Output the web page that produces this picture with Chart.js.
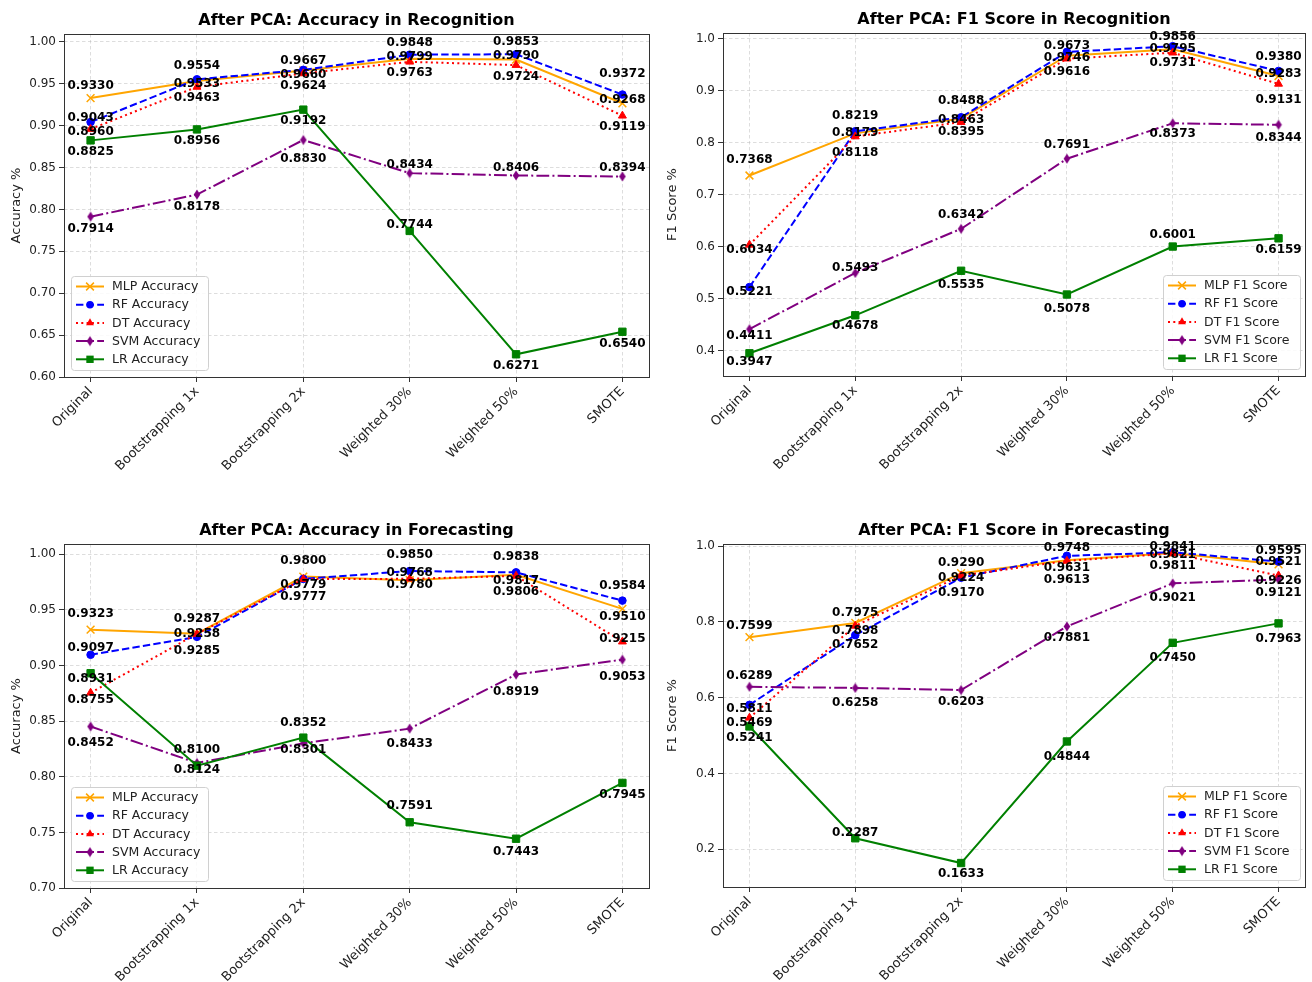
<!DOCTYPE html>
<html>
<head>
<meta charset="utf-8">
<script src="https://cdn.jsdelivr.net/npm/chart.js@4.4.0/dist/chart.umd.min.js"></script>
<style>
  html, body { margin: 0; padding: 0; background: #fff; }
  #wrap { position: relative; width: 1312px; height: 982px; }
  canvas { position: absolute; }
</style>
</head>
<body>
<div id="wrap">
  <canvas id="recAcc" width="656" height="510" style="left:0;top:0"></canvas>
  <canvas id="recF1" width="656" height="510" style="left:656px;top:0"></canvas>
  <canvas id="fcAcc" width="656" height="472" style="left:0;top:510px"></canvas>
  <canvas id="fcF1" width="656" height="472" style="left:656px;top:510px"></canvas>
</div>
<script>
// --- DATA ---
const categories = ["Original", "Bootstrapping 1x", "Bootstrapping 2x", "Weighted 30%", "Weighted 50%", "SMOTE"];
const models = ["MLP", "RF", "DT", "SVM", "LR"];

// Recognition - accuracy
const recAccMLP = [0.9330, 0.9533, 0.9660, 0.9799, 0.9790, 0.9268];
const recAccRF  = [0.9043, 0.9554, 0.9667, 0.9848, 0.9853, 0.9372];
const recAccDT  = [0.8960, 0.9463, 0.9624, 0.9763, 0.9724, 0.9119];
const recAccSVM = [0.7914, 0.8178, 0.8830, 0.8434, 0.8406, 0.8394];
const recAccLR  = [0.8825, 0.8956, 0.9192, 0.7744, 0.6271, 0.6540];

// Recognition - F1
const recF1MLP = [0.7368, 0.8179, 0.8463, 0.9673, 0.9795, 0.9283];
const recF1RF  = [0.5221, 0.8219, 0.8488, 0.9746, 0.9856, 0.9380];
const recF1DT  = [0.6034, 0.8118, 0.8395, 0.9616, 0.9731, 0.9131];
const recF1SVM = [0.4411, 0.5493, 0.6342, 0.7691, 0.8373, 0.8344];
const recF1LR  = [0.3947, 0.4678, 0.5535, 0.5078, 0.6001, 0.6159];

// Forecasting - accuracy
const fcAccMLP = [0.9323, 0.9287, 0.9800, 0.9768, 0.9817, 0.9510];
const fcAccRF  = [0.9097, 0.9258, 0.9779, 0.9850, 0.9838, 0.9584];
const fcAccDT  = [0.8755, 0.9285, 0.9777, 0.9780, 0.9806, 0.9215];
const fcAccSVM = [0.8452, 0.8124, 0.8301, 0.8433, 0.8919, 0.9053];
const fcAccLR  = [0.8931, 0.8100, 0.8352, 0.7591, 0.7443, 0.7945];

// Forecasting - F1
const fcF1MLP = [0.7599, 0.7975, 0.9290, 0.9631, 0.9821, 0.9521];
const fcF1RF  = [0.5811, 0.7652, 0.9170, 0.9748, 0.9841, 0.9595];
const fcF1DT  = [0.5469, 0.7898, 0.9224, 0.9613, 0.9811, 0.9226];
const fcF1SVM = [0.6289, 0.6258, 0.6203, 0.7881, 0.9021, 0.9121];
const fcF1LR  = [0.5241, 0.2287, 0.1633, 0.4844, 0.7450, 0.7963];

// y tick labels
const accTicksRec = [0.60, 0.65, 0.70, 0.75, 0.80, 0.85, 0.90, 0.95, 1.00];
const f1TicksRec  = [0.4, 0.5, 0.6, 0.7, 0.8, 0.9, 1.0];
const accTicksFc  = [0.70, 0.75, 0.80, 0.85, 0.90, 0.95, 1.00];
const f1TicksFc   = [0.2, 0.4, 0.6, 0.8, 1.0];

// value label vertical nudges (px, + = below the point), one row per model
const recAccLabelDy = [[-12, 3, 4, -2, -4, -3], [-4, -13, -9, -12, -12, -21], [3, 11, 12, 11, 12, 11], [12, 12, 19, -8, -8, -9], [11, 11, 11, -6, 12, 12]];
const recF1LabelDy  = [[-16, 0, 1, -10, 0, -2], [5, -15, -16, 6, -9, -14], [5, 16, 10, 13, 10, 16], [7, -5, -14, -14, 11, 13], [9, 11, 14, 14, -12, 12]];
const fcAccLabelDy  = [[-16, -15, -16, -7, 6, 8], [-7, -3, 6, -16, -15, -15], [7, 17, 18, 6, 16, -3], [16, 7, 7, 15, 17, 17], [6, -16, -15, -16, 13, 12]];
const fcF1LabelDy   = [[-11, -10, -10, 8, 2, -3], [4, 10, 15, -8, -5, -11], [5, 5, 2, 19, 12, 5], [-11, 15, 12, 11, 15, 13], [11, -5, 11, 15, 15, 15]];

// --- STYLE ---
Chart.defaults.font.family = "'DejaVu Sans', sans-serif";
Chart.defaults.color = "#222";

function thinDiamond(color) {
  const c = document.createElement("canvas");
  c.width = 8; c.height = 11;
  const g = c.getContext("2d");
  g.fillStyle = color;
  g.beginPath();
  g.moveTo(4, 0.5); g.lineTo(7.3, 5.5); g.lineTo(4, 10.5); g.lineTo(0.7, 5.5);
  g.closePath(); g.fill();
  return c;
}

const seriesStyle = {
  MLP: { color: "#FFA500", dash: [], marker: "crossRot", radius: 5.5 },
  RF:  { color: "#0000FF", dash: [7.4, 3.2], marker: "circle", radius: 3.8 },
  DT:  { color: "#FF0000", dash: [2, 3.3], marker: "triangle", radius: 4.6 },
  SVM: { color: "#800080", dash: [12.8, 3.2, 2, 3.2], marker: thinDiamond("#800080"), radius: 5 },
  LR:  { color: "#008000", dash: [], marker: "rect", radius: 5.2 }
};

const gridColor = "rgba(176,176,176,0.55)";

function drawMarker(ctx, st, x, y) {
  const m = st.marker, r = st.radius;
  ctx.save();
  ctx.setLineDash([]);
  ctx.fillStyle = st.color; ctx.strokeStyle = st.color; ctx.lineWidth = 1.5;
  if (m instanceof HTMLCanvasElement) {
    ctx.drawImage(m, x - m.width / 2, y - m.height / 2);
  } else if (m === "circle") {
    ctx.beginPath(); ctx.arc(x, y, r, 0, Math.PI * 2); ctx.fill();
  } else if (m === "triangle") {
    ctx.beginPath();
    for (let k = 0; k < 3; k++) {
      const a = k * 2 * Math.PI / 3;
      ctx.lineTo(x + Math.sin(a) * r, y - Math.cos(a) * r);
    }
    ctx.closePath(); ctx.fill();
  } else if (m === "rect") {
    const s = r * Math.SQRT1_2;
    ctx.fillRect(x - s, y - s, 2 * s, 2 * s);
  } else if (m === "crossRot") {
    const s = r * Math.SQRT1_2;
    ctx.beginPath();
    ctx.moveTo(x - s, y - s); ctx.lineTo(x + s, y + s);
    ctx.moveTo(x - s, y + s); ctx.lineTo(x + s, y - s);
    ctx.stroke();
  }
  ctx.restore();
}

function buildDatasets(series, suffix) {
  return models.map((m, k) => {
    const st = seriesStyle[m];
    return {
      label: m + " " + suffix,
      data: series[k].map((v, i) => ({ x: i, y: v })),
      borderColor: st.color,
      backgroundColor: st.color,
      borderWidth: 2,
      borderDash: st.dash,
      pointStyle: st.marker,
      pointRadius: st.radius,
      pointHoverRadius: st.radius,
      pointBackgroundColor: st.color,
      pointBorderColor: st.color,
      pointBorderWidth: m === "MLP" ? 1.5 : 1,
      tension: 0,
      fill: false,
      order: models.length - k
    };
  });
}

function panelDecor(cfg) {
  return {
    id: "panelDecor",
    afterDatasetsDraw(chart) {
      const ctx = chart.ctx;
      const a = chart.chartArea;

      // frame
      ctx.save();
      ctx.strokeStyle = "#333";
      ctx.lineWidth = 1;
      ctx.strokeRect(Math.round(a.left) + 0.5, Math.round(a.top) + 0.5, Math.round(a.right - a.left), Math.round(a.bottom - a.top));
      ctx.restore();

      // value labels
      ctx.save();
      ctx.font = "bold 12px 'DejaVu Sans'";
      ctx.fillStyle = "#000";
      ctx.textAlign = "center";
      ctx.textBaseline = "middle";
      chart.data.datasets.forEach((ds, k) => {
        const meta = chart.getDatasetMeta(k);
        meta.data.forEach((pt, i) => {
          ctx.fillText(cfg.series[k][i].toFixed(4), pt.x, pt.y + cfg.labelDy[k][i]);
        });
      });
      ctx.restore();

      // legend inside the plot
      const lw = 137, lh = 94, rowH = 18.2;
      const lx = cfg.legendSide === "left" ? a.left + 7 : a.right - 5 - lw;
      const ly = a.bottom - 7 - lh;
      ctx.save();
      ctx.beginPath();
      ctx.roundRect(lx + 0.5, ly + 0.5, lw, lh, 3);
      ctx.fillStyle = "rgba(255,255,255,0.85)";
      ctx.fill();
      ctx.strokeStyle = "#d0d0d0";
      ctx.lineWidth = 1;
      ctx.stroke();
      ctx.font = "12.5px 'DejaVu Sans'";
      ctx.textAlign = "left";
      ctx.textBaseline = "middle";
      models.forEach((m, k) => {
        const st = seriesStyle[m];
        const cy = ly + 10.5 + k * rowH;
        ctx.save();
        ctx.strokeStyle = st.color;
        ctx.lineWidth = 2;
        ctx.setLineDash(st.dash);
        ctx.beginPath();
        ctx.moveTo(lx + 5, cy); ctx.lineTo(lx + 33, cy);
        ctx.stroke();
        ctx.restore();
        drawMarker(ctx, st, lx + 19, cy);
        ctx.fillStyle = "#222";
        ctx.fillText(chart.data.datasets[k].label, lx + 41, cy + 0.5);
      });
      ctx.restore();

      // title
      ctx.save();
      ctx.font = "bold 16px 'DejaVu Sans'";
      ctx.fillStyle = "#000";
      ctx.textAlign = "center";
      ctx.textBaseline = "middle";
      ctx.fillText(cfg.title, (a.left + a.right) / 2, a.top - 13);
      ctx.restore();
    }
  };
}

function makePanel(id, cfg) {
  const canvas = document.getElementById(id);
  const W = canvas.width, H = canvas.height;
  const f = cfg.frame;
  const axisGrid = { color: gridColor, lineWidth: 0.8, tickColor: "#333", tickLength: 5, tickWidth: 1, tickBorderDash: [] };
  const axisBorder = { display: false, dash: [3.5, 2.5] };
  new Chart(canvas, {
    type: "line",
    data: { datasets: buildDatasets(cfg.series, cfg.suffix) },
    options: {
      responsive: false,
      animation: false,
      events: [],
      layout: { padding: { top: f.top, right: W - f.right, left: 0, bottom: 0 } },
      plugins: { legend: { display: false }, title: { display: false }, tooltip: { enabled: false } },
      scales: {
        x: {
          type: "linear", min: -0.25, max: 5.25,
          afterBuildTicks: s => { s.ticks = categories.map((c, i) => ({ value: i })); },
          afterFit: s => { s.height = H - f.bottom; },
          grid: axisGrid, border: axisBorder,
          ticks: { autoSkip: false, maxRotation: 45, minRotation: 45, padding: 2, font: { size: 13 }, callback: v => categories[v] }
        },
        y: {
          type: "linear", min: cfg.yMin, max: cfg.yMax,
          afterBuildTicks: s => { s.ticks = cfg.yTicks.map(v => ({ value: v })); },
          afterFit: s => { s.width = f.left; },
          grid: axisGrid, border: axisBorder,
          ticks: { padding: 3, font: { size: 12 }, callback: v => v.toFixed(cfg.yDigits) },
          title: { display: true, text: cfg.yTitle, font: { size: 13 }, padding: { top: 9, bottom: 0 } }
        }
      }
    },
    plugins: [panelDecor(cfg)]
  });
}

makePanel("recAcc", {
  title: "After PCA: Accuracy in Recognition", suffix: "Accuracy", yTitle: "Accuracy %",
  series: [recAccMLP, recAccRF, recAccDT, recAccSVM, recAccLR], labelDy: recAccLabelDy,
  yMin: 0.60, yMax: 1.0095, yTicks: accTicksRec, yDigits: 2, legendSide: "left",
  frame: { left: 64, right: 651, top: 34, bottom: 377 }
});
makePanel("recF1", {
  title: "After PCA: F1 Score in Recognition", suffix: "F1 Score", yTitle: "F1 Score %",
  series: [recF1MLP, recF1RF, recF1DT, recF1SVM, recF1LR], labelDy: recF1LabelDy,
  yMin: 0.351, yMax: 1.011, yTicks: f1TicksRec, yDigits: 1, legendSide: "right",
  frame: { left: 67, right: 652, top: 33, bottom: 376 }
});
makePanel("fcAcc", {
  title: "After PCA: Accuracy in Forecasting", suffix: "Accuracy", yTitle: "Accuracy %",
  series: [fcAccMLP, fcAccRF, fcAccDT, fcAccSVM, fcAccLR], labelDy: fcAccLabelDy,
  yMin: 0.70, yMax: 1.0093, yTicks: accTicksFc, yDigits: 2, legendSide: "left",
  frame: { left: 64, right: 651, top: 34, bottom: 378 }
});
makePanel("fcF1", {
  title: "After PCA: F1 Score in Forecasting", suffix: "F1 Score", yTitle: "F1 Score %",
  series: [fcF1MLP, fcF1RF, fcF1DT, fcF1SVM, fcF1LR], labelDy: fcF1LabelDy,
  yMin: 0.10, yMax: 1.006, yTicks: f1TicksFc, yDigits: 1, legendSide: "right",
  frame: { left: 67, right: 652, top: 34, bottom: 377 }
});
</script>
</body>
</html>
